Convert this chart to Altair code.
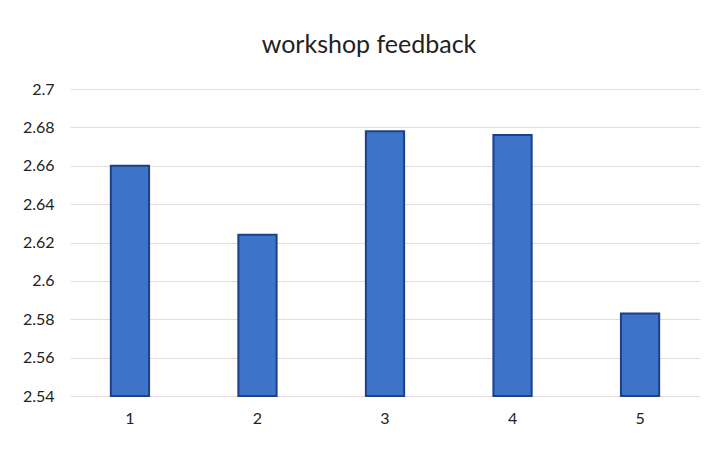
import altair as alt
import pandas as pd

categories = ["1", "2", "3", "4", "5"]
values = [2.660, 2.624, 2.678, 2.676, 2.583]
y_ticks = [2.54, 2.56, 2.58, 2.60, 2.62, 2.64, 2.66, 2.68, 2.70]

df = pd.DataFrame({"cat": categories, "val": values})

FONT = "Lato"

bars = alt.Chart(df).mark_bar(
    color="#3d74c9", stroke="#1d3f8c", strokeWidth=2
).encode(
    x=alt.X("cat:N", sort=categories, title=None,
            scale=alt.Scale(paddingInner=0.7, paddingOuter=0.32),
            axis=alt.Axis(labelAngle=0, domain=False, ticks=False, labelPadding=14,
                          labelFontSize=16, labelColor="#222222", labelFont=FONT)),
    y=alt.Y("val:Q", title=None,
            scale=alt.Scale(domain=[2.54, 2.70], zero=False, nice=False),
            axis=alt.Axis(values=y_ticks, format=".2~f", domain=False, ticks=False,
                          labelPadding=16, labelFontSize=16, labelColor="#222222",
                          labelFont=FONT, gridColor="#e6dcdc", gridWidth=1)),
    y2=alt.datum(2.54),
)

chart = bars.properties(
    width=630,
    height=307,
    background="white",
    padding={"left": 14, "top": 25, "right": 5, "bottom": 5},
    title=alt.TitleParams("workshop feedback", fontSize=25, font=FONT,
                          fontWeight="normal", color="#222222", offset=23, dx=-16),
).configure_view(stroke=None)

chart.save("out.html", embed_options={"renderer": "svg", "actions": False})
